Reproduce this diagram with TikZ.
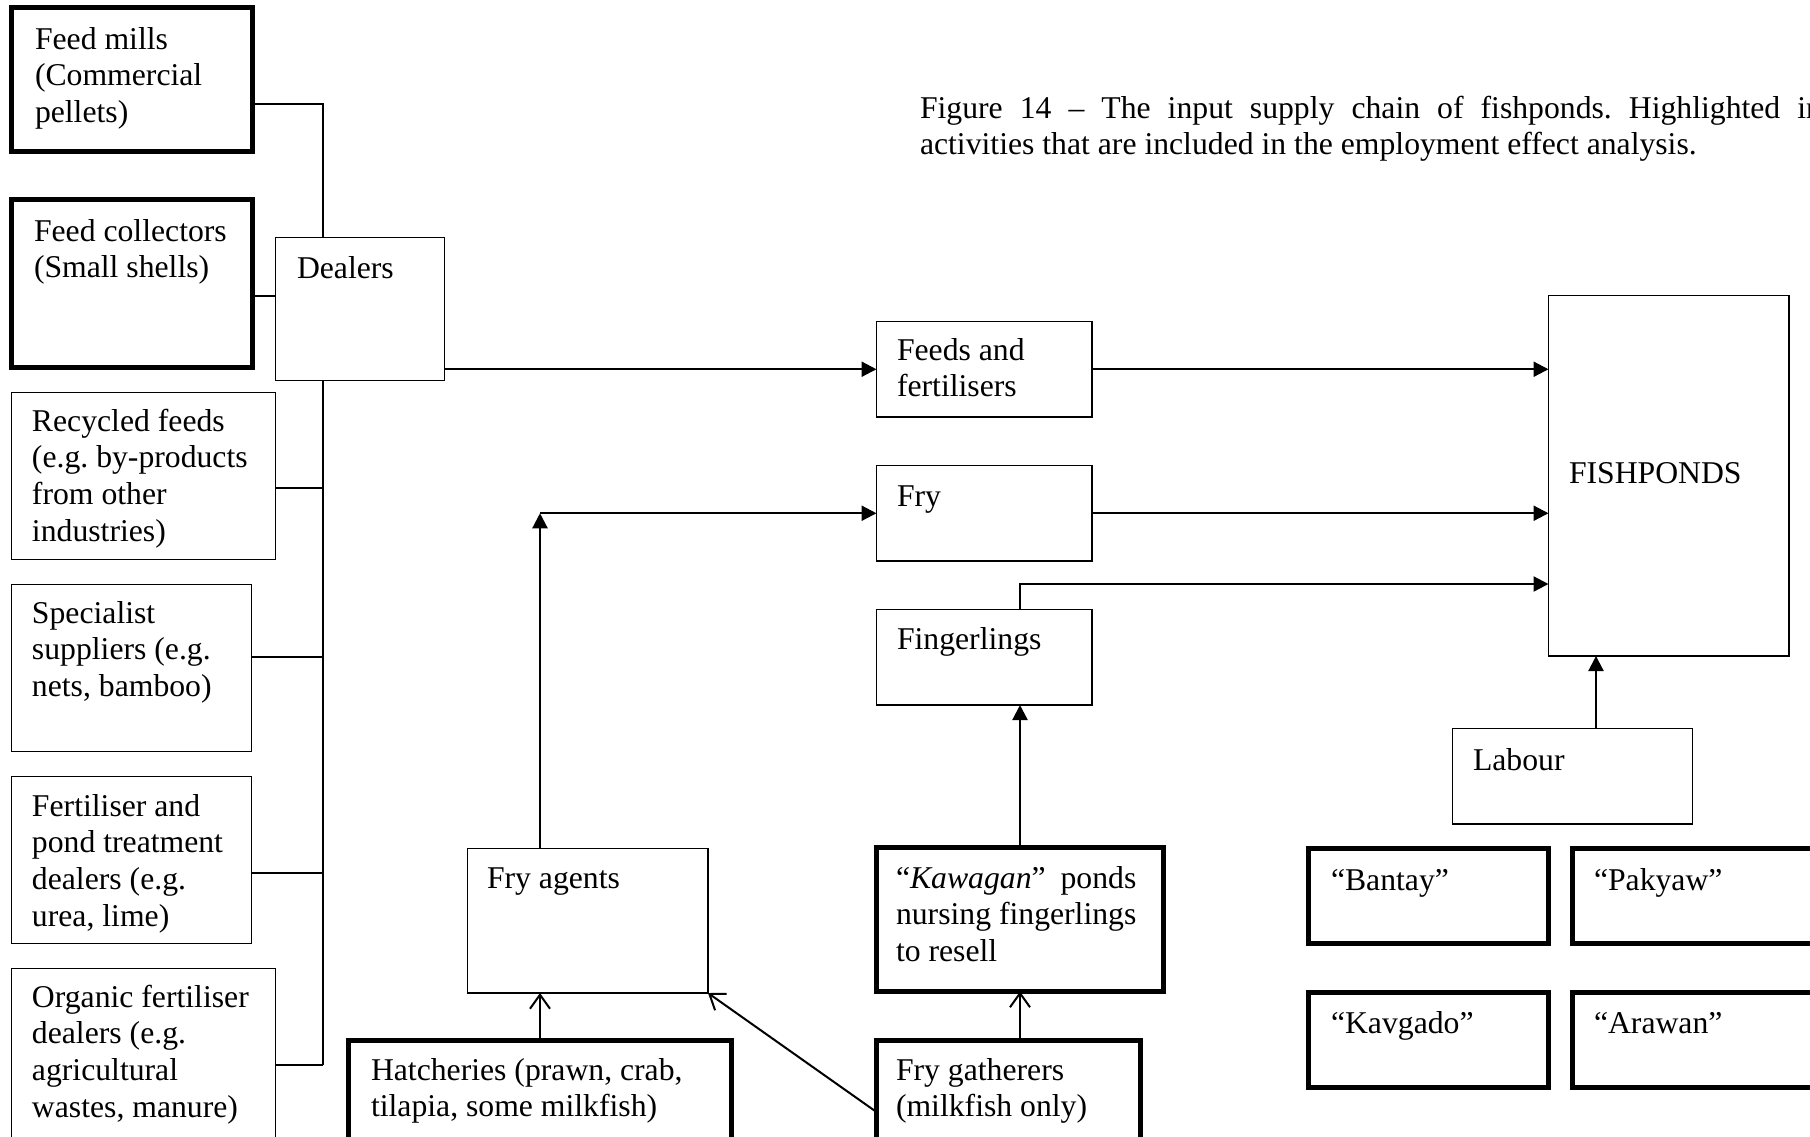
\documentclass[tikz,border=0pt]{standalone}
\usepackage{fontspec}
\setmainfont{Liberation Serif}
\usetikzlibrary{arrows.meta,fit,calc}
\newlength\kwlen
\newcommand\mlines[1]{\begin{tabular}[t]{@{}l@{}}#1\end{tabular}}
\frenchspacing
\begin{document}
\begin{tikzpicture}[x=0.5pt,y=-0.5pt,
  every node/.style={font=\fontsize{15.85pt}{18.4pt}\selectfont},
  thinbox/.style={draw, line width=0.65pt, inner sep=0pt, outer sep=0pt},
  thickbox/.style={draw, line width=2.5pt, inner sep=0pt, outer sep=0pt},
  txt/.style={anchor=base west, inner sep=0pt, outer sep=0pt},
  tree/.style={line width=0.65pt},
  farr/.style={line width=1.1pt, -{Triangle[length=7.5pt,width=7.5pt]}},
  oarr/.style={line width=1pt, -{Straight Barb[length=7pt,width=10pt]}}]
\clip (0,0) rectangle (1810,1136);
\fill[white] (0,0) rectangle (1810,1136);

% left column
\node[thickbox, fit={(11.5,7.5) (252.5,151.5)}] (fm) {};
\node[txt] (fmT) at (35,49) {\mlines{Feed mills\\(Commercial\\pellets)}};
\node[thickbox, fit={(11.5,199.5) (252.5,367.5)}] (fc) {};
\node[txt] (fcT) at (34,241) {\mlines{Feed collectors\\(Small shells)}};
\node[thinbox, fit={(275.5,237.5) (444.5,380.5)}] (dealers) {};
\node[txt] (dealersT) at (297,278) {Dealers};
\node[thinbox, fit={(11.5,392.5) (275.5,559.5)}] (rec) {};
\node[txt] (recT) at (32,431) {\mlines{Recycled feeds\\(e.g. by-products\\from other\\industries)}};
\node[thinbox, fit={(11.5,584.5) (251.5,751.5)}] (spec) {};
\node[txt] (specT) at (32,623) {\mlines{Specialist\\suppliers (e.g.\\nets, bamboo)}};
\node[thinbox, fit={(11.5,776.5) (251.5,943.5)}] (fert) {};
\node[txt] (fertT) at (32,816) {\mlines{Fertiliser and\\pond treatment\\dealers (e.g.\\urea, lime)}};
\node[thinbox, fit={(11.5,968.5) (275.5,1180)}] (org) {};
\node[txt] (orgT) at (32,1007) {\mlines{Organic fertiliser\\dealers (e.g.\\agricultural\\wastes, manure)}};

% middle column
\node[thinbox, fit={(876.5,321.5) (1092,417)}] (feeds) {};
\node[txt] (feedsT) at (897,360) {\mlines{Feeds and\\fertilisers}};
\node[thinbox, fit={(876.5,465.5) (1092,561)}] (fry) {};
\node[txt] (fryT) at (897,506) {Fry};
\node[thinbox, fit={(876.5,609.5) (1092,705)}] (fing) {};
\node[txt] (fingT) at (897,649) {Fingerlings};
\node[thinbox, fit={(467.5,848.5) (708,993)}] (fa) {};
\node[txt] (faT) at (487,888) {Fry agents};
\node[thickbox, fit={(876.5,847.5) (1163.5,991.5)}] (kaw) {};
\node[txt] (kawT) at (896,888) {\settowidth{\kwlen}{nursing fingerlings}\mlines{\makebox[\kwlen][s]{“\textit{Kawagan}” ponds}\\nursing fingerlings\\to resell}};
\node[thickbox, fit={(348.5,1040.5) (731.5,1183.5)}] (hatch) {};
\node[txt] (hatchT) at (371,1080) {\mlines{Hatcheries (prawn, crab,\\tilapia, some milkfish)}};
\node[thickbox, fit={(876.5,1040.5) (1140.5,1183.5)}] (fg) {};
\node[txt] (fgT) at (896,1080) {\mlines{Fry gatherers\\(milkfish only)}};

% right column
\node[thinbox, fit={(1548.5,295.5) (1789,656)}] (fish) {};
\node[txt] (fishT) at (1569,483) {FISHPONDS};
\node[thinbox, fit={(1452.5,728.5) (1692.5,824)}] (labour) {};
\node[txt] (labourT) at (1473,770) {Labour};
\node[thickbox, fit={(1308.5,848.5) (1548.5,943.5)}] (bantay) {};
\node[txt] (bantayT) at (1331,890) {“Bantay”};
\node[thickbox, fit={(1572.5,848.5) (1840,943.5)}] (pakyaw) {};
\node[txt] (pakyawT) at (1594,890) {“Pakyaw”};
\node[thickbox, fit={(1308.5,992.5) (1548.5,1087.5)}] (kavgado) {};
\node[txt] (kavgadoT) at (1331,1033) {“Kavgado”};
\node[thickbox, fit={(1572.5,992.5) (1840,1087.5)}] (arawan) {};
\node[txt] (arawanT) at (1594,1033) {“Arawan”};

% caption
\node[txt] (cap) at (920,118) {\mlines{\makebox[451pt][s]{Figure 14 – The input supply chain of fishponds. Highlighted in}\\activities that are included in the employment effect analysis.}};

% tree connectors
\coordinate (b1) at (323,104);
\coordinate (b2) at (323,296);
\coordinate (b3) at (323,488);
\coordinate (b4) at (323,657);
\coordinate (b5) at (323,873);
\coordinate (b6) at (323,1065);
\draw[tree] (fm.east |- b1) -- (b1) -- (b1 |- dealers.north);
\draw[tree] (fc.east |- b2) -- (dealers.west |- b2);
\draw[tree] (rec.east |- b3) -- (b3);
\draw[tree] (spec.east |- b4) -- (b4);
\draw[tree] (fert.east |- b5) -- (b5);
\draw[tree] (org.east |- b6) -- (b6);
\draw[tree] (b1 |- dealers.south) -- (b6);

% arrows
\draw[farr] (feeds.west -| dealers.east) -- (feeds.west);
\draw[farr] (feeds.east) -- (feeds.east -| fish.west);
\draw[farr] (fry.east) -- (fry.east -| fish.west);
\coordinate (f3) at (1548.5,584);
\draw[farr] (kaw.north |- fing.north) |- (f3);
\draw[farr] (kaw.north) -- (kaw.north |- fing.south);
\coordinate (c1) at (hatch.north |- fry.west);
\draw[farr] (hatch.north |- fa.north) -- (c1);
\draw[farr] (c1) -- (fry.west);
\draw[oarr] (hatch.north) -- (hatch.north |- fa.south);
\draw[oarr] (fg.north -| kaw.south) -- (kaw.south);
\draw[oarr] (fg.west) -- (fa.south east);
\coordinate (lx) at (1596,0);
\draw[farr] (labour.north -| lx) -- (fish.south -| lx);
\end{tikzpicture}
\end{document}
